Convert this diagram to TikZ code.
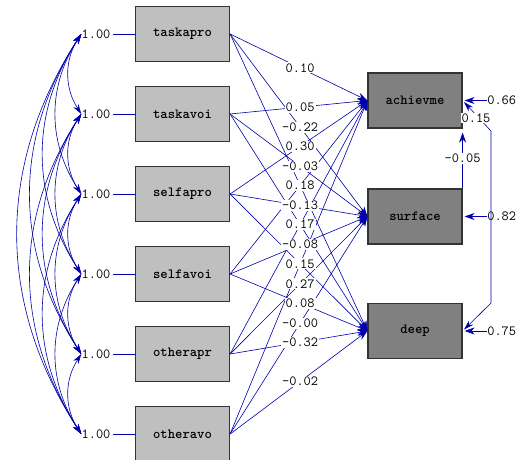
\documentclass[tikz,border=0pt]{standalone}
\usetikzlibrary{arrows.meta}
\definecolor{pathblue}{RGB}{0,0,170}

\begin{document}
\begin{tikzpicture}[x=1pt,y=-1pt,draw=pathblue,line width=0.6pt,
    font=\fontsize{14}{16}\selectfont\ttfamily]
    \tikzstyle{obs}=[rectangle,draw=black!80,line width=1.2pt,minimum width=94pt,minimum height=55pt,inner sep=0pt,font=\fontsize{14}{16}\selectfont\ttfamily\bfseries]
    \tikzstyle{x var}=[obs,fill=black!25]
    \tikzstyle{y var}=[obs,fill=black!50]
    \tikzstyle{coef}=[fill=white,inner sep=1pt]
    \tikzstyle{tip}=[-{Stealth[length=10pt,width=7pt]}]
    \tikzstyle{two tips}=[{Stealth[length=10pt,width=6pt]}-{Stealth[length=10pt,width=6pt]}]
    \useasboundingbox (0,0) rectangle (517,460);
    % Draw the observed x variables and their variances
    \foreach \name / \i / \y in {taskapro/1/34,taskavoi/2/114,selfapro/3/194,selfavoi/4/274,otherapr/5/354,otheravo/6/434}{
      \node[x var] (\name) at (182.5,\y) {\name};
      \node[inner sep=0pt] (v\i) at (96,\y) {1.00};
      \draw[shorten <=2pt] (v\i.east) -- (\name.west);
    }
    % the y variables
    \node[y var] (achievme) at (415,100.5) {achievme};
    \node[y var] (surface) at (415,216.5) {surface};
    \node[y var] (deep) at (415,331) {deep};
    % covariances of the x variables
    \foreach \i in {1,...,5}{
      \pgfmathtruncatemacro\k{\i+1}
      \foreach \j in {\k,...,6}
        \draw[two tips] (v\i.west) to[bend right=33] (v\j.west);
    }
    % paths, then their labels on top
    \foreach \s in {taskapro,taskavoi,selfapro,selfavoi,otherapr,otheravo}
      \foreach \t in {achievme,surface,deep}
        \draw[tip] (\s.east) -- (\t.west);
    \foreach \s / \t / \c in {taskapro/achievme/0.10,taskapro/surface/-0.22,taskapro/deep/0.18,
        taskavoi/achievme/0.05,taskavoi/surface/-0.03,taskavoi/deep/0.17,
        selfapro/achievme/0.30,selfapro/surface/-0.13,selfapro/deep/0.15,
        selfavoi/surface/-0.08,selfavoi/deep/0.08,otherapr/surface/0.27,
        otherapr/deep/-0.32,otheravo/surface/-0.00,otheravo/deep/-0.02}
      \path (\s.east) -- (\t.west) node[coef,pos=0.51] (c-\s-\t) {\c};
    % error variances
    \node[anchor=west,inner sep=0pt] (ea) at (487,100.5) {0.66};
    \node[anchor=west,inner sep=0pt] (es) at (487,216.5) {0.82};
    \node[anchor=west,inner sep=0pt] (ed) at (487,331) {0.75};
    \path (ea) edge[tip,shorten >=2pt] (achievme) (es) edge[tip,shorten >=2pt] (surface) (ed) edge[tip,shorten >=2pt] (deep);
    % error covariances
    \draw[tip,shorten >=4pt] (surface.north east) -- node[coef] (r12) {-0.05} (achievme.south east);
    \coordinate (ca) at (491,131);
    \coordinate (cd) at (491,303);
    \draw[two tips,shorten <=2pt,shorten >=2pt] (achievme.east) -- (ca) -- (cd) -- (deep.east);
    \node[coef] (r13) at (476,118) {0.15};
\end{tikzpicture}
\end{document}
